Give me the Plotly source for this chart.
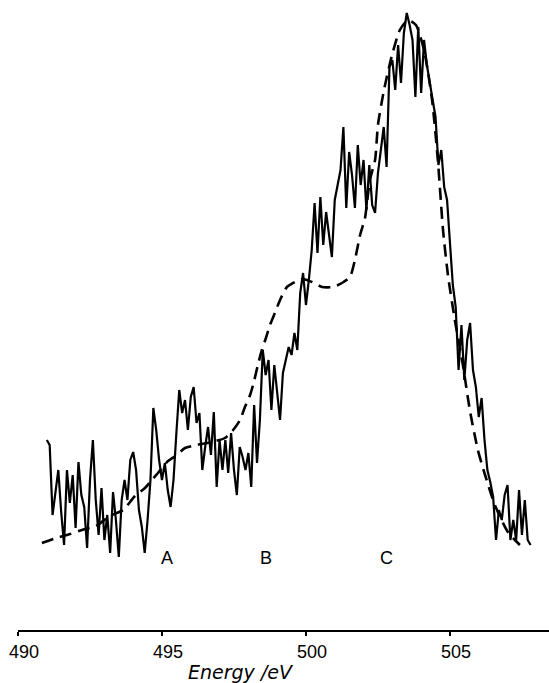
import plotly.graph_objects as go

# Measured spectrum: energy grid (eV) and intensity (arb. units)
energy_start = 491.0
energy_step = 0.1
intensity = [
    190, 185, 115, 140, 160, 118, 85, 160, 127, 155,
    102, 168, 135, 123, 82, 150, 190, 130, 95, 142,
    90, 115, 77, 138, 110, 73, 130, 150, 130, 170,
    178, 160, 120, 103, 77, 110, 150, 222, 200, 170,
    150, 167, 140, 123, 150, 197, 240, 217, 230, 200,
    233, 243, 207, 217, 160, 183, 203, 175, 218, 143,
    190, 160, 190, 157, 197, 160, 135, 183, 173, 160,
    177, 143, 225, 167, 210, 280, 255, 270, 220, 265,
    237, 210, 257, 270, 283, 275, 297, 280, 337, 357,
    325, 350, 380, 427, 377, 433, 385, 418, 397, 373,
    430, 447, 460, 503, 422, 478, 455, 422, 485, 445,
    470, 420, 465, 425, 417, 457, 483, 503, 463, 563,
    570, 540, 585, 547, 597, 617, 605, 590, 533, 603,
    537, 590, 565, 545, 530, 513, 465, 480, 443, 430,
    390, 345, 323, 260, 305, 250, 290, 307, 260, 243,
    213, 232, 190, 160, 148, 133, 90, 120, 110, 135,
    145, 90, 110, 90, 140, 95, 130, 90, 85,
]
energy = [round(energy_start + energy_step * i, 2) for i in range(len(intensity))]

# Calculated (broadened) spectrum
calc_energy = [
    490.83, 491.32, 491.81, 492.22, 492.71, 493.19, 493.65, 494.06, 494.41, 494.65,
    494.86, 495.21, 495.52, 495.80, 496.22, 496.74, 497.19, 497.47, 497.71, 497.88,
    498.06, 498.19, 498.33, 498.47, 498.61, 498.75, 498.92, 499.10, 499.34, 499.62,
    499.90, 500.21, 500.56, 500.94, 501.25, 501.53, 501.70, 501.88, 502.05, 502.22,
    502.40, 502.50, 502.71, 502.99, 503.26, 503.54, 503.82, 504.10, 504.38, 504.58,
    504.76, 504.93, 505.17, 505.45, 505.69, 505.97, 506.22, 506.56, 507.01, 507.43,
]
calc_intensity = [
    87, 92, 96, 100, 104, 114, 120, 134, 142, 150,
    157, 169, 175, 182, 185, 188, 192, 200, 210, 223,
    235, 248, 265, 280, 292, 305, 317, 330, 343, 348,
    351, 348, 343, 343, 347, 353, 370, 395, 412, 450,
    470, 505, 540, 575, 600, 610, 605, 580, 530, 470,
    400, 355, 310, 265, 220, 180, 155, 125, 98, 85,
]

# Peak labels
peak_labels = ["A", "B", "C"]
peak_positions = [495.17, 498.61, 502.81]

tick_values = [490, 495, 500, 505]
x_title = "Energy /eV"

font_family = "Liberation Sans, Arial, sans-serif"

fig = go.Figure()

fig.add_trace(go.Scatter(
    x=calc_energy, y=calc_intensity, mode="lines",
    line=dict(color="black", width=2.6, dash="12px,7px", shape="spline", smoothing=0.6),
    showlegend=False, hoverinfo="skip",
))

fig.add_trace(go.Scatter(
    x=energy, y=intensity, mode="lines",
    line=dict(color="black", width=2.2),
    showlegend=False, hoverinfo="skip",
))

for label, pos in zip(peak_labels, peak_positions):
    fig.add_annotation(
        x=pos, y=72, xref="x", yref="y", text=label, showarrow=False,
        font=dict(family=font_family, size=18, color="black"),
        xanchor="center", yanchor="middle",
    )

fig.add_annotation(
    x=497.75, y=-0.067, xref="x", yref="paper", text=x_title, showarrow=False,
    font=dict(family="DejaVu Sans, sans-serif", size=19, color="black", style="italic"),
    xanchor="center", yanchor="middle",
)

fig.update_layout(
    width=549, height=683,
    margin=dict(l=18, r=0, t=0, b=53),
    paper_bgcolor="white", plot_bgcolor="white",
    xaxis=dict(
        range=[490, 508.44], showline=True, linecolor="black", linewidth=2,
        ticks="outside", ticklen=4, tickwidth=1.5, tickcolor="black",
        tickvals=tick_values, ticktext=[str(v) for v in tick_values],
        tickfont=dict(family=font_family, size=18, color="black"),
        ticklabelshift=6,
        showgrid=False, zeroline=False, fixedrange=True,
    ),
    yaxis=dict(
        range=[0, 630], visible=False, showgrid=False, zeroline=False,
    ),
)

fig.write_html("out.html")
